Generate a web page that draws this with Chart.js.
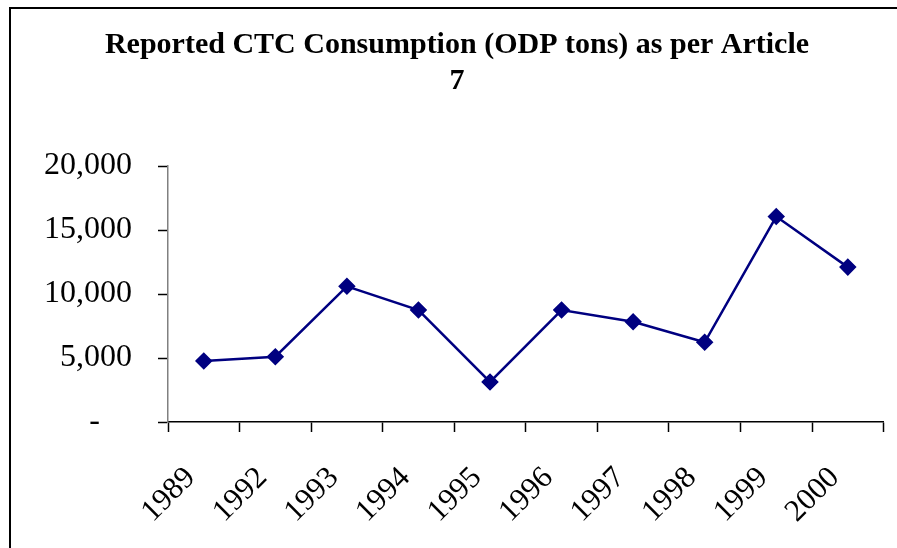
<!DOCTYPE html>
<html>
<head>
<meta charset="utf-8">
<script src="https://cdn.jsdelivr.net/npm/chart.js@4/dist/chart.umd.min.js"></script>
<style>
    html, body { margin: 0; padding: 0; background: #fff; overflow: hidden; }
    #frame {
        position: absolute;
        left: 9px;
        top: 7px;
        width: 892px;
        height: 560px;
        border: 2px solid #000;
    }
</style>
</head>
<body>
<div id="frame"><canvas id="ctcChart" width="892" height="560"></canvas></div>
<script>
// reported CTC consumption, ODP tons
const years = ['1989', '1992', '1993', '1994', '1995', '1996', '1997', '1998', '1999', '2000'];
const consumption = [4770, 5100, 10600, 8750, 3130, 8750, 7830, 6230, 16050, 12100];
const yTickLabels = ['-    ', '5,000', '10,000', '15,000', '20,000'];

const serif = '"Liberation Serif", "Times New Roman", serif';
const ctx = document.getElementById('ctcChart').getContext('2d');

new Chart(ctx, {
    type: 'line',
    data: {
        labels: years,
        datasets: [{
            label: 'CTC',
            data: consumption,
            borderColor: '#000080',
            backgroundColor: '#000080',
            borderWidth: 2.5,
            pointStyle: 'rectRot',
            pointRadius: 7,
            pointHoverRadius: 7,
            tension: 0
        }]
    },
    options: {
        responsive: false,
        animation: false,
        events: [],
        layout: { padding: { left: 18, right: 18, top: 0, bottom: 0 } },
        plugins: {
            legend: { display: false },
            tooltip: { enabled: false },
            title: {
                display: true,
                text: ['Reported CTC Consumption (ODP tons) as per Article', '7'],
                color: '#000',
                font: { family: serif, size: 30, weight: 'bold', lineHeight: 1.2 },
                padding: { top: 18, bottom: 67 }
            }
        },
        scales: {
            x: {
                offset: true,
                border: { color: '#000', width: 1.5 },
                grid: {
                    offset: true,
                    drawOnChartArea: false,
                    tickLength: 10,
                    tickColor: '#000',
                    tickWidth: 1.5
                },
                ticks: {
                    color: '#000',
                    font: { family: serif, size: 31 },
                    minRotation: 45,
                    maxRotation: 45,
                    padding: 28,
                    labelOffset: -13
                },
                afterFit(scale) { scale.height = 147; }
            },
            y: {
                min: 0,
                max: 20000,
                border: { color: '#808080', width: 1.5 },
                grid: {
                    drawOnChartArea: false,
                    tickLength: 10,
                    tickColor: '#000',
                    tickWidth: 1.5
                },
                ticks: {
                    stepSize: 5000,
                    color: '#000',
                    font: { family: serif, size: 32 },
                    padding: 26,
                    callback: (value) => yTickLabels[value / 5000]
                },
                afterFit(scale) { scale.width = 139; }
            }
        }
    }
});
</script>
</body>
</html>
